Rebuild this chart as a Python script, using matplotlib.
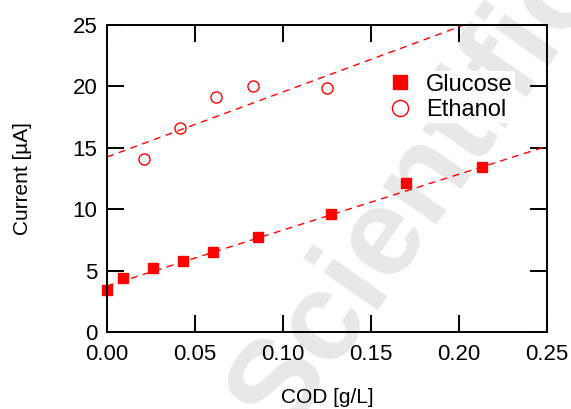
import numpy as np
import matplotlib as mpl
mpl.use("Agg")
import matplotlib.pyplot as plt

plt.rcParams['font.family'] = ['Liberation Sans', 'DejaVu Sans']

# Glucose (filled squares)
glucose_cod = [0.0, 0.009, 0.026, 0.043, 0.060, 0.086, 0.127, 0.170, 0.213]
glucose_cur = [3.4, 4.4, 5.2, 5.8, 6.5, 7.7, 9.6, 12.1, 13.4]
glucose_fit = [3.75, 45.5]   # intercept, slope

# Ethanol (open circles)
ethanol_cod = [0.021, 0.0415, 0.062, 0.083, 0.125]
ethanol_cur = [14.1, 16.6, 19.1, 20.0, 19.9]
ethanol_fit = [14.25, 53.0]

red = "#ff0000"

fig = plt.figure(figsize=(5.71, 4.09), dpi=100)
ax = fig.add_axes([0.1874, 0.1883, 0.7706, 0.7506])
ax.patch.set_alpha(0)

# watermark behind the axes
fig.text(0.73, 0.53, "Scientific", rotation=55, fontsize=90, fontweight='bold',
         color="#e8e8e8", ha='center', va='center', zorder=-5)

xx = np.array([0.0, 0.25])
ax.plot(xx, glucose_fit[0] + glucose_fit[1] * xx, color=red, lw=1, dashes=(5, 4))
ax.plot(xx, ethanol_fit[0] + ethanol_fit[1] * xx, color=red, lw=1, dashes=(5, 4))

ax.plot(glucose_cod, glucose_cur, 's', color=red, ms=7.2, label="Glucose", clip_on=False)
ax.plot(ethanol_cod, ethanol_cur, 'o', mfc='none', mec=red, mew=1, ms=8, label="Ethanol")

ax.set_xlim(0, 0.25)
ax.set_ylim(0, 25)
ax.set_xticks([0, 0.05, 0.10, 0.15, 0.20, 0.25])
ax.set_xticklabels(["0.00", "0.05", "0.10", "0.15", "0.20", "0.25"])
ax.set_yticks([0, 5, 10, 15, 20, 25])
ax.tick_params(direction='in', length=12, width=1.4, labelsize=16,
               top=True, right=True)
ax.tick_params(axis='x', pad=9)
ax.tick_params(axis='y', pad=7)
for s in ax.spines.values():
    s.set_linewidth(1.4)

ax.set_xlabel("COD [g/L]", fontsize=15, labelpad=16)
ax.set_ylabel("Current [µA]", fontsize=15, labelpad=29)

leg = ax.legend(loc='upper left', bbox_to_anchor=(0.602, 0.888), fontsize=17,
                frameon=True, fancybox=False, edgecolor='none', framealpha=1,
                markerscale=1.45, handletextpad=0.5, borderpad=0.1,
                labelspacing=0.15, handlelength=1.2)

fig.savefig("out.png", dpi=100)
